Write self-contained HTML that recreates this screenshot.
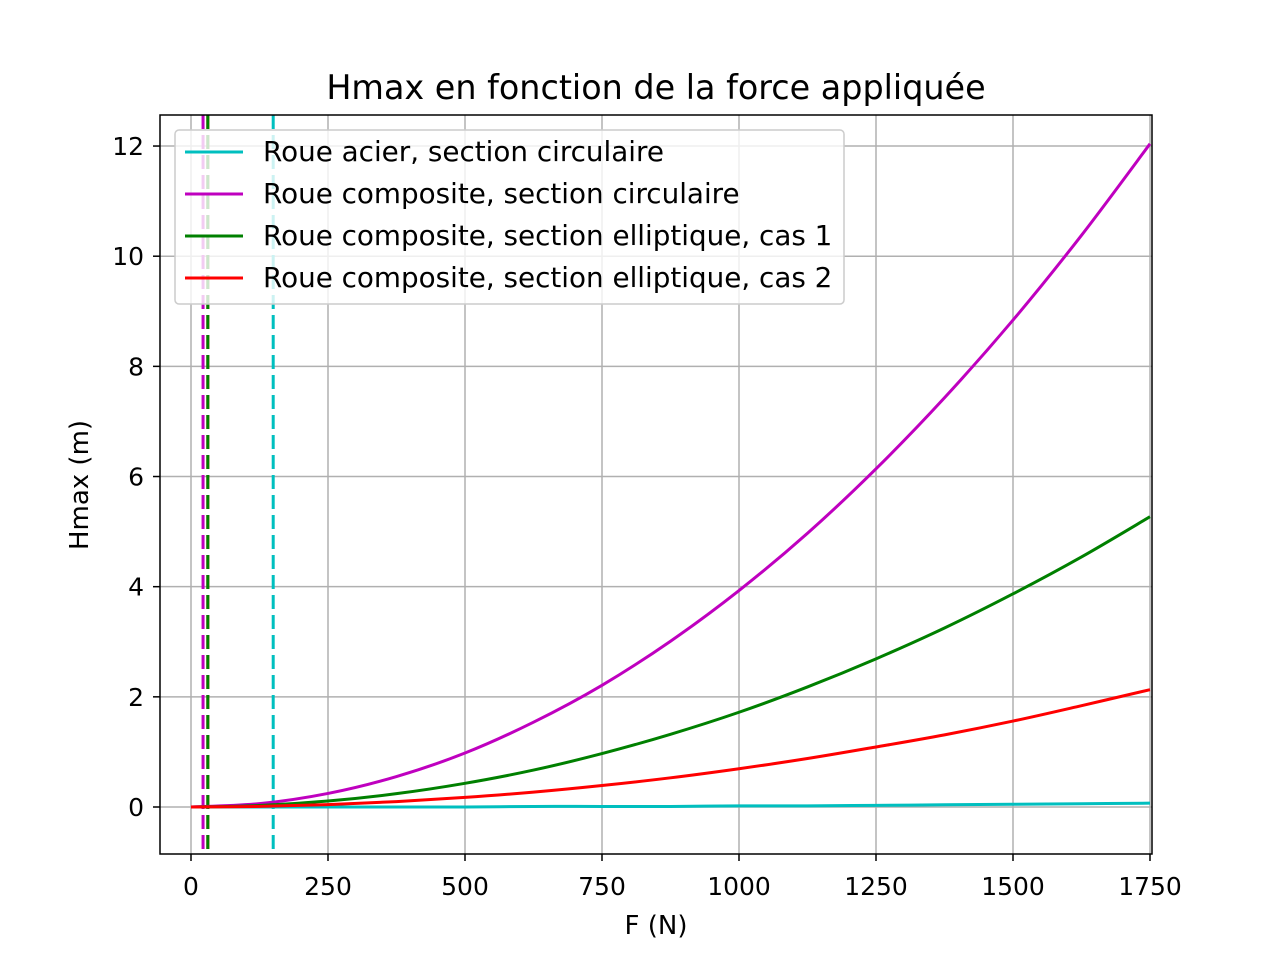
<!DOCTYPE html>
<html><head><meta charset="utf-8"><style>
body{margin:0;background:#fff}
svg{font-family:"DejaVu Sans","Liberation Sans",sans-serif}
</style></head><body>
<svg id="chart" width="1280" height="960">
<rect width="1280" height="960" fill="#fff"/>
<g id="grid"></g>
<g id="series"></g>
<rect x="160" y="115" width="992" height="739" fill="none" stroke="#000" stroke-width="1.5"/>
<g id="ticks"></g>
<text x="656" y="99" font-size="33.4px" text-anchor="middle">Hmax en fonction de la force appliquée</text>
<text x="656" y="934" font-size="26px" text-anchor="middle">F (N)</text>
<text transform="translate(88,485) rotate(-90)" font-size="26px" text-anchor="middle">Hmax (m)</text>
<g id="legend"></g>
</svg>
<script>
const forces=[0,125,250,375,500,625,750,875,1000,1125,1250,1375,1500,1625,1750];
const acier=[0,0,0,0,0,0.01,0.01,0.01,0.02,0.02,0.03,0.04,0.05,0.06,0.07];
const compCirc=[0,0.061,0.246,0.553,0.98,1.54,2.21,3.01,3.93,4.97,6.14,7.43,8.84,10.38,12.04];
const ellip1=[0,0.027,0.108,0.242,0.43,0.67,0.97,1.32,1.72,2.18,2.69,3.25,3.87,4.54,5.27];
const ellip2=[0,0.011,0.043,0.098,0.174,0.27,0.39,0.53,0.695,0.88,1.09,1.31,1.56,1.84,2.13];
const limits=[150,22,30.7,30.7];
const xTicks=[0,250,500,750,1000,1250,1500,1750];
const yTicks=[0,2,4,6,8,10,12];
const labels=["Roue acier, section circulaire","Roue composite, section circulaire","Roue composite, section elliptique, cas 1","Roue composite, section elliptique, cas 2"];
const colors=["#00bfbf","#bf00bf","#008000","#ff0000"];
const NS="http://www.w3.org/2000/svg";
const X=v=>191+v*0.548, Y=v=>807-v*55.08;
function mk(t,a,p){const e=document.createElementNS(NS,t);for(const k in a)e.setAttribute(k,a[k]);p.appendChild(e);return e;}
const grid=document.getElementById('grid'),ticks=document.getElementById('ticks'),ser=document.getElementById('series'),leg=document.getElementById('legend');
xTicks.forEach(t=>{const x=X(t);
const g=mk('line',{x1:x,x2:x,y1:115,y2:854,stroke:'#b0b0b0','stroke-width':1.5},grid);

mk('line',{x1:x,x2:x,y1:854,y2:861,stroke:'#000','stroke-width':1.5},ticks);
const tx=mk('text',{x:x,y:895,'font-size':'25px','text-anchor':'middle'},ticks);tx.textContent=t;
});
yTicks.forEach(t=>{const y=Y(t);
const g=mk('line',{x1:160,x2:1152,y1:y,y2:y,stroke:'#b0b0b0','stroke-width':1.5},grid);

mk('line',{x1:153,x2:160,y1:y,y2:y,stroke:'#000','stroke-width':1.5},ticks);
const tx=mk('text',{x:144,y:y+9,'font-size':'25px','text-anchor':'end'},ticks);tx.textContent=t;
});
[3,0,1,2].forEach(i=>{
const l=mk('line',{x1:X(limits[i]),x2:X(limits[i]),y1:115,y2:854,stroke:colors[i],'stroke-width':3,'stroke-dasharray':'14,6'},ser);
});
function smooth(pts){let d='M'+pts[0][0]+','+pts[0][1];
for(let i=0;i<pts.length-1;i++){const p0=pts[Math.max(i-1,0)],p1=pts[i],p2=pts[i+1],p3=pts[Math.min(i+2,pts.length-1)];
d+=' C'+(p1[0]+(p2[0]-p0[0])/6)+','+(p1[1]+(p2[1]-p0[1])/6)+' '+(p2[0]-(p3[0]-p1[0])/6)+','+(p2[1]-(p3[1]-p1[1])/6)+' '+p2[0]+','+p2[1];}
return d;}
[acier,compCirc,ellip1,ellip2].forEach((s,i)=>{
const p=mk('path',{d:smooth(s.map((v,j)=>[X(forces[j]),Y(v)])),fill:'none',stroke:colors[i],'stroke-width':3},ser);
});
const box=mk('rect',{x:175,y:130,width:669,height:174,rx:4,fill:'#fff','fill-opacity':0.8,stroke:'#ccc','stroke-width':1.5},leg);

labels.forEach((t,i)=>{const y=152+i*42;
const l=mk('line',{x1:185,x2:243,y1:y,y2:y,stroke:colors[i],'stroke-width':3},leg);

const tx=mk('text',{x:263,y:y+9,'font-size':'27.8px'},leg);tx.textContent=t;
});
</script>
</body></html>
